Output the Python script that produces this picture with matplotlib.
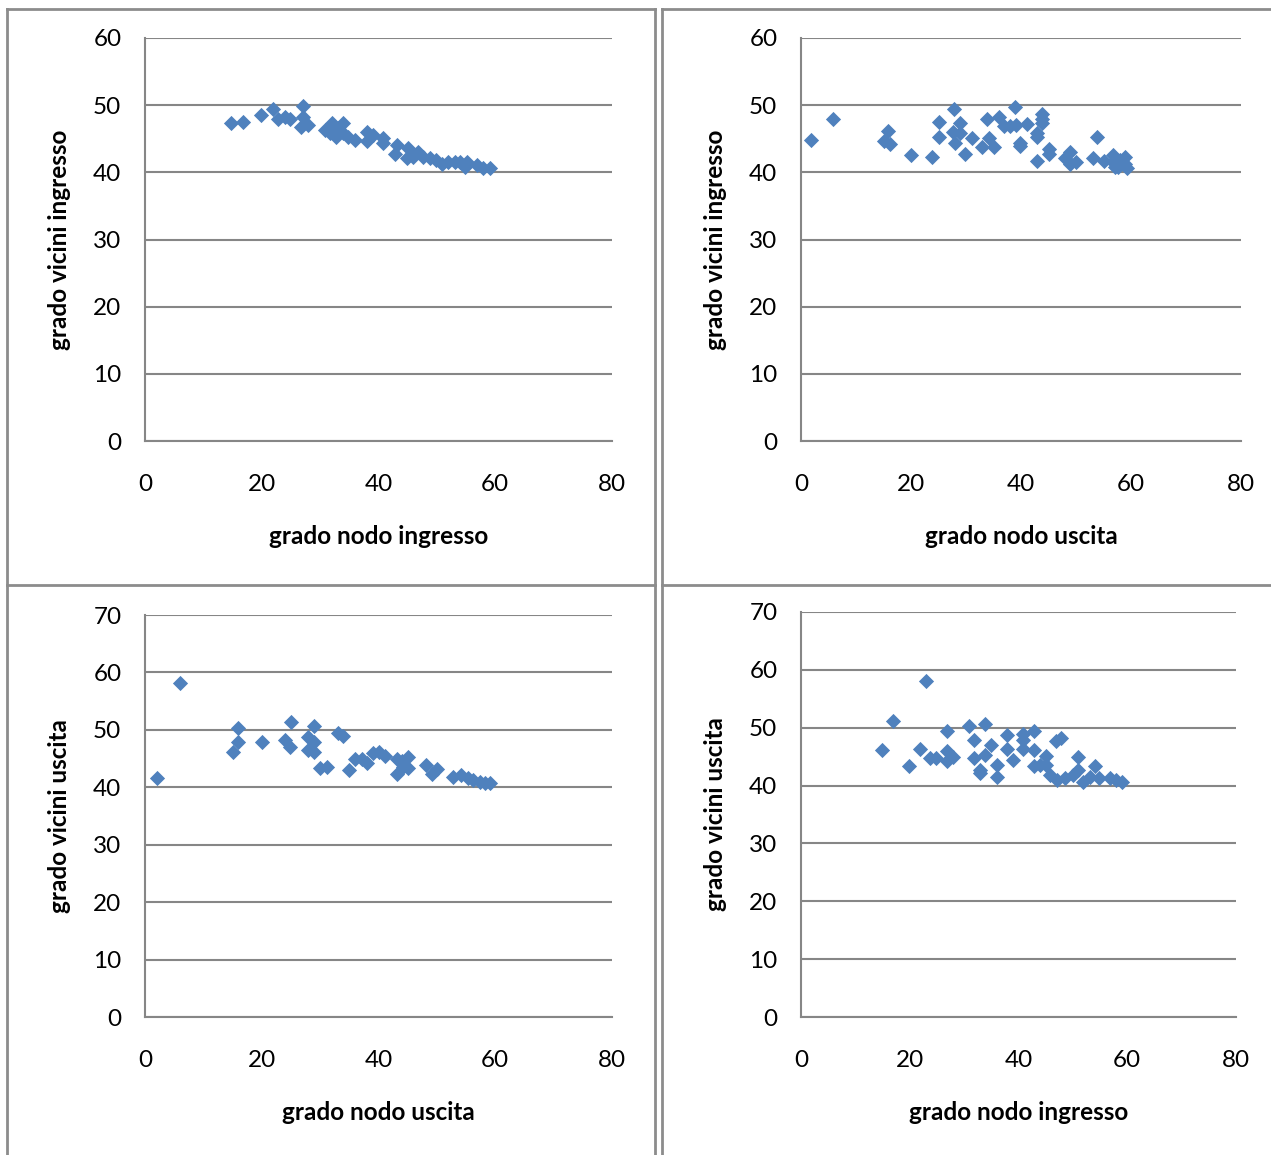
import matplotlib
matplotlib.use("Agg")
import matplotlib.pyplot as plt
from matplotlib.lines import Line2D

plt.rcParams['font.family'] = ['Lato', 'DejaVu Sans']

# top-left: grado nodo ingresso vs grado vicini ingresso
x1 = [14.8, 16.8, 19.9, 21.9, 22.8, 24.0, 24.8, 27.0, 27.0, 26.8, 28.0, 30.8, 32.0, 31.7,
      32.8, 33.1, 33.9, 33.9, 34.8, 36.0, 38.0, 39.1, 38.0, 40.8, 40.8, 43.1, 42.8, 45.1,
      44.8, 46.8, 45.9, 47.6, 48.8, 49.9, 50.8, 51.9, 53.1, 53.9, 55.1, 54.8, 56.8, 57.9, 59.1]
y1 = [47.3, 47.5, 48.6, 49.5, 47.9, 48.3, 47.9, 49.9, 48.3, 46.8, 47.0, 46.3, 47.3, 45.8,
      45.3, 46.6, 47.3, 45.8, 45.3, 44.8, 46.0, 45.6, 44.6, 45.1, 44.3, 44.1, 42.8, 43.6,
      42.1, 43.1, 42.3, 42.3, 42.1, 41.8, 41.3, 41.6, 41.6, 41.6, 41.6, 40.8, 41.1, 40.7, 40.6]

# top-right: grado nodo uscita vs grado vicini ingresso
x2 = [1.9, 5.9, 15.9, 15.0, 16.1, 20.0, 23.9, 25.0, 25.0, 27.9, 28.9, 27.7, 28.9, 28.0,
      29.9, 31.0, 32.9, 34.1, 35.0, 33.9, 36.0, 36.9, 38.0, 38.9, 39.1, 41.0, 39.8, 39.9,
      42.9, 42.9, 43.9, 43.9, 43.9, 45.0, 45.0, 42.9, 48.9, 48.0, 48.9, 50.0, 53.9, 53.0,
      55.0, 56.8, 56.8, 57.7, 58.9, 58.9, 59.2, 58.0, 57.1]
y2 = [44.8, 47.9, 46.2, 44.6, 44.2, 42.6, 42.3, 47.5, 45.3, 49.5, 47.3, 46.0, 45.8, 44.3,
      42.8, 45.1, 43.8, 45.1, 43.8, 48.0, 48.3, 46.9, 46.9, 49.8, 47.0, 47.2, 44.3, 43.9,
      45.9, 45.3, 48.7, 48.0, 47.3, 43.4, 42.8, 41.7, 43.1, 42.1, 41.3, 41.6, 45.2, 42.2,
      41.7, 42.6, 41.6, 40.8, 42.3, 41.3, 40.6, 41.8, 40.8]

# bottom-left: grado nodo uscita vs grado vicini uscita
x3 = [2.0, 6.0, 16.0, 16.0, 15.0, 20.0, 25.0, 23.9, 24.9, 28.9, 28.0, 28.9, 28.0, 28.9,
      30.0, 31.1, 33.0, 34.0, 35.0, 36.0, 37.1, 38.0, 39.1, 40.0, 41.1, 43.1, 43.1, 44.2,
      45.1, 45.1, 44.0, 48.1, 49.1, 50.1, 52.8, 54.1, 55.4, 56.2, 57.4, 58.2, 59.1]
y3 = [41.6, 58.1, 50.3, 47.9, 46.2, 47.8, 51.3, 48.2, 47.1, 50.7, 48.8, 47.9, 46.5, 46.1,
      43.3, 43.6, 49.4, 48.9, 43.0, 44.9, 44.9, 44.3, 45.9, 46.2, 45.4, 45.0, 42.4, 43.6,
      45.2, 43.3, 44.5, 43.9, 42.4, 43.1, 41.8, 42.1, 41.6, 41.3, 41.0, 40.7, 40.7]

# bottom-right: grado nodo ingresso vs grado vicini uscita
x4 = [14.9, 16.9, 19.9, 21.9, 22.9, 23.8, 24.9, 26.9, 26.9, 26.9, 27.9, 30.9, 31.9, 31.9,
      32.9, 32.9, 33.8, 33.8, 34.9, 36.0, 36.0, 37.9, 37.9, 38.9, 40.9, 40.9, 40.9, 42.9,
      42.9, 42.9, 44.0, 45.0, 45.0, 45.8, 46.9, 47.9, 47.0, 48.5, 50.1, 51.0, 51.0, 51.9,
      53.1, 54.0, 54.8, 56.9, 58.0, 59.0]
y4 = [46.1, 51.2, 43.4, 46.4, 58.0, 44.8, 44.7, 49.4, 45.9, 44.3, 45.0, 50.3, 47.9, 44.8,
      42.7, 42.1, 50.6, 45.3, 47.0, 43.6, 41.5, 48.7, 46.3, 44.5, 49.0, 47.9, 46.3, 49.4,
      46.1, 43.3, 43.6, 45.1, 43.6, 41.8, 47.7, 48.2, 41.0, 41.3, 41.8, 45.0, 42.7, 40.7,
      41.5, 43.3, 41.3, 41.3, 40.9, 40.7]

W, H = 1271, 1155
fig = plt.figure(figsize=(W / 100, H / 100), dpi=100)


def box(l, t, r, b):
    return [l / W, 1 - b / H, (r - l) / W, (b - t) / H]


panels = [
    (box(145, 38, 612, 441), x1, y1, 60, 'grado nodo ingresso', 'grado vicini ingresso'),
    (box(801, 38, 1241, 441), x2, y2, 60, 'grado nodo uscita', 'grado vicini ingresso'),
    (box(145, 615, 612, 1017), x3, y3, 70, 'grado nodo uscita', 'grado vicini uscita'),
    (box(801, 612, 1236, 1017), x4, y4, 70, 'grado nodo ingresso', 'grado vicini uscita'),
]

gray = '#868686'
for rect, xs, ys, ymax, xl, yl in panels:
    ax = fig.add_axes(rect)
    ax.scatter(xs, ys, marker='D', s=60, color='#4F81BD', linewidths=0, zorder=3)
    ax.set_xlim(0, 80)
    ax.set_ylim(0, ymax)
    ax.set_xticks(range(0, 81, 20))
    ax.set_yticks(range(0, ymax + 1, 10))
    ax.yaxis.grid(True, color=gray, linewidth=1.5)
    ax.set_axisbelow(True)
    for s in ['top', 'right']:
        ax.spines[s].set_visible(False)
    for s in ['left', 'bottom']:
        ax.spines[s].set_color(gray)
        ax.spines[s].set_linewidth(1.5)
    ax.tick_params(length=0, labelsize=17.5)
    ax.tick_params(axis='y', pad=17)
    ax.tick_params(axis='x', pad=24)
    ax.set_xlabel(xl, fontsize=17.5, fontweight='bold', labelpad=21)
    ax.set_ylabel(yl, fontsize=17.5, fontweight='bold', labelpad=16)

# table-like cell borders
bc = '#8c8c8c'


def hline(y, x0, x1_):
    fig.add_artist(Line2D([x0 / W, x1_ / W], [1 - y / H, 1 - y / H], color=bc, lw=2))


def vline(x, y0, y1_):
    fig.add_artist(Line2D([x / W, x / W], [1 - y0 / H, 1 - y1_ / H], color=bc, lw=2))


hline(9, 7, 655)
hline(9, 662, W)
hline(585, 7, 655)
hline(585, 662, W)
vline(7, 9, H)
vline(655, 9, H)
vline(662, 9, H)

fig.savefig('out.png', dpi=100)
